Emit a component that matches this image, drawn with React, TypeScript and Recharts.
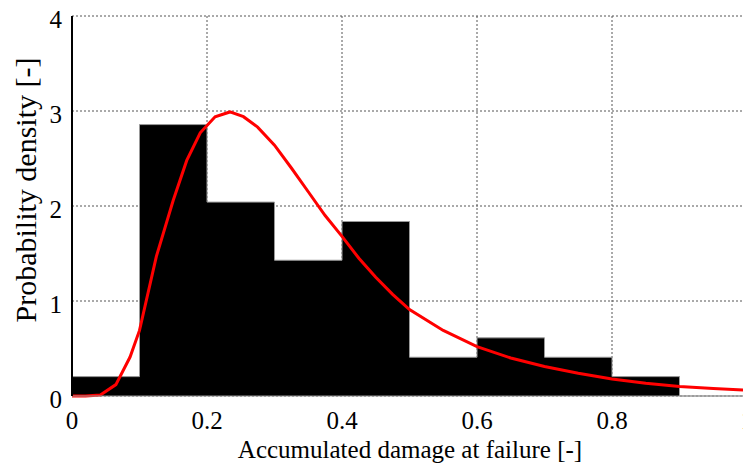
import React from "react"
import { ComposedChart, Area, Line, XAxis, YAxis, CartesianGrid, Label } from "recharts"

// histogram of accumulated damage at failure (bin left edges, density)
const binEdges = [0, 0.1, 0.2, 0.3, 0.4, 0.5, 0.6, 0.7, 0.8, 0.9, 1.0]
const binDensity = [0.204, 2.857, 2.041, 1.429, 1.837, 0.408, 0.612, 0.408, 0.204, 0, 0]

// fitted pdf
const fitX = [0, 0.02, 0.042, 0.065, 0.086, 0.1, 0.125, 0.15, 0.17, 0.19, 0.212, 0.234, 0.254, 0.275, 0.3, 0.325, 0.35, 0.375, 0.4, 0.425, 0.45, 0.475, 0.5, 0.55, 0.6, 0.65, 0.7, 0.75, 0.8, 0.85, 0.9, 0.95, 1.0]
const fitY = [0, 0, 0.01, 0.12, 0.41, 0.69, 1.47, 2.06, 2.48, 2.77, 2.94, 2.99, 2.94, 2.83, 2.64, 2.4, 2.15, 1.9, 1.68, 1.45, 1.25, 1.07, 0.91, 0.69, 0.52, 0.4, 0.31, 0.24, 0.18, 0.135, 0.1, 0.08, 0.06]

const xTicks = [0, 0.2, 0.4, 0.6, 0.8, 1]
const yTicks = [0, 1, 2, 3, 4]

const FONT = "'Liberation Serif', 'Times New Roman', serif"

const histData = binEdges.map((x, i) => ({ x, density: binDensity[i] }))
const fitData = fitX.map((x, i) => ({ x, pdf: fitY[i] }))

const XTick = ({ x, y, payload }: any) => (
  <text x={x} y={y + 31} textAnchor="middle" fontSize={25} fontFamily={FONT} fill="#000">
    {String(payload.value)}
  </text>
)

const YTick = ({ x, y, payload }: any) => (
  <text x={x - 8} y={y + 11.5} textAnchor="end" fontSize={25} fontFamily={FONT} fill="#000">
    {String(payload.value)}
  </text>
)

export default function App() {
  return (
    <div style={{ position: "fixed", left: 0, top: 0, width: 743, height: 468, overflow: "hidden", background: "#fff" }}>
      <ComposedChart width={760} height={468} margin={{ top: 16, right: 13, bottom: 0, left: 0 }}>
        <CartesianGrid stroke="#555" strokeDasharray="2 2" strokeWidth={1} />
        <XAxis
          dataKey="x"
          type="number"
          domain={[0, 1]}
          ticks={xTicks}
          height={72}
          tickSize={0}
          tickLine={false}
          tick={<XTick />}
          axisLine={{ stroke: "#999", strokeWidth: 1 }}
          allowDataOverflow
        >
          <Label
            content={() => (
              <text x={410} y={458} textAnchor="middle" fontSize={25} fontFamily={FONT} fill="#000">
                Accumulated damage at failure [-]
              </text>
            )}
          />
        </XAxis>
        <XAxis
          xAxisId="top"
          orientation="top"
          type="number"
          domain={[0, 1]}
          ticks={xTicks}
          height={0}
          mirror
          tick={false}
          tickSize={5}
          tickLine={{ stroke: "#000" }}
          axisLine={{ stroke: "#000", strokeWidth: 2 }}
        />
        <YAxis
          type="number"
          domain={[0, 4]}
          ticks={yTicks}
          width={72}
          tickSize={0}
          tickLine={false}
          tick={<YTick />}
          axisLine={{ stroke: "#000", strokeWidth: 2 }}
        >
          <Label
            content={() => (
              <text
                x={36}
                y={190}
                transform="rotate(-90, 36, 190)"
                textAnchor="middle"
                fontSize={30}
                fontFamily={FONT}
                fill="#000"
              >
                Probability density [-]
              </text>
            )}
          />
        </YAxis>
        <YAxis
          yAxisId="right"
          orientation="right"
          type="number"
          domain={[0, 4]}
          ticks={yTicks}
          width={0}
          mirror
          tick={false}
          tickSize={5}
          tickLine={{ stroke: "#000" }}
          axisLine={{ stroke: "#000", strokeWidth: 2 }}
        />
        <Area
          data={histData}
          dataKey="density"
          type="stepAfter"
          fill="#000"
          fillOpacity={1}
          stroke="#999"
          strokeWidth={1}
          isAnimationActive={false}
        />
        <Line
          data={fitData}
          dataKey="pdf"
          type="linear"
          stroke="#ff0000"
          strokeWidth={3}
          dot={false}
          isAnimationActive={false}
        />
      </ComposedChart>
    </div>
  )
}
